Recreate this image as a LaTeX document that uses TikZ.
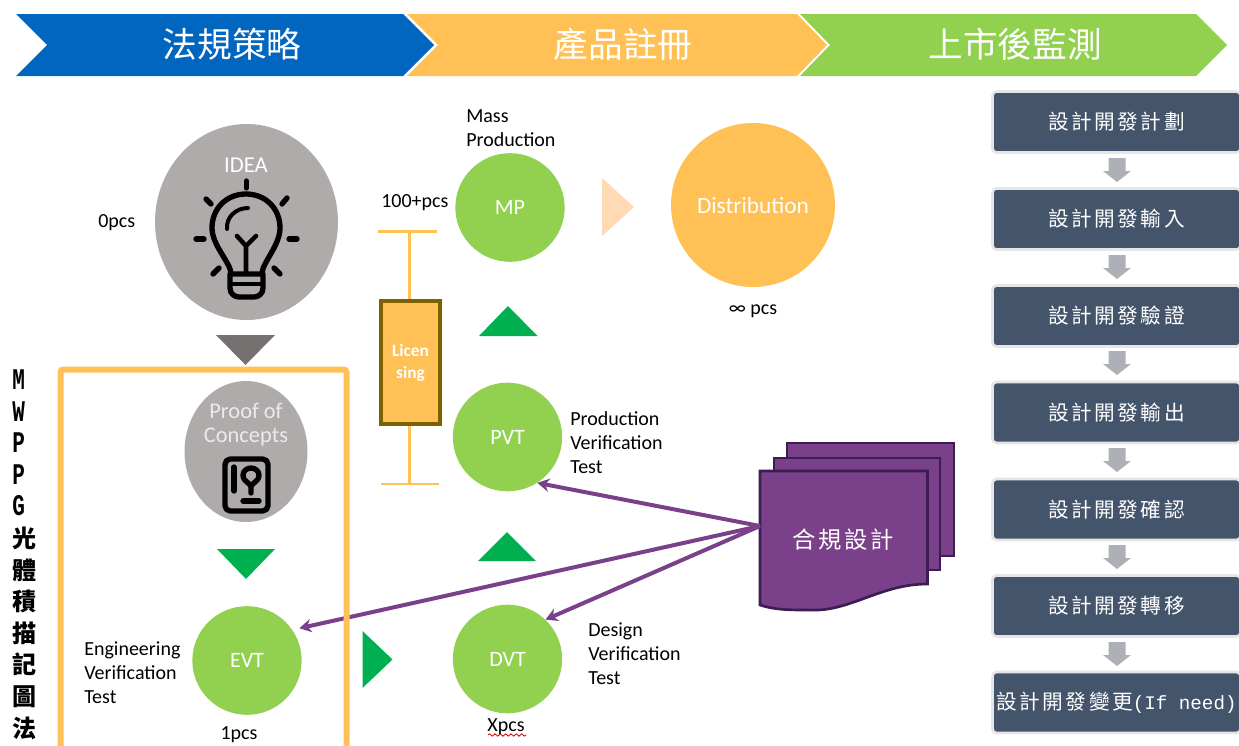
\documentclass[tikz,border=0pt]{standalone}
\usepackage{fontspec}
\setmainfont{Carlito}
\newfontfamily\cjk{Noto Sans CJK TC}
\newfontfamily\cjksp[LetterSpace=12]{Noto Sans CJK TC}
\newfontfamily\monohalf{Liberation Mono}
\newfontfamily\narrowb[FakeStretch=0.7]{Liberation Mono Bold}
\usetikzlibrary{shapes.geometric,decorations.pathmorphing,arrows.meta}
\definecolor{hblue}{HTML}{0066BF}
\definecolor{horange}{HTML}{FFC055}
\definecolor{hgreen}{HTML}{92D050}
\definecolor{dgreen}{HTML}{00B050}
\definecolor{ggray}{HTML}{AFABAB}
\definecolor{tgray}{HTML}{767171}
\definecolor{pale}{HTML}{FFDAB5}
\definecolor{slate}{HTML}{44546A}
\definecolor{slateb}{HTML}{E7E6E6}
\definecolor{arrgray}{HTML}{ADB0B6}
\definecolor{purp}{HTML}{7A4089}
\definecolor{purpd}{HTML}{3B1D52}
\definecolor{brownb}{HTML}{7F6000}
\tikzset{
  header/.style={font=\cjk\fontsize{26}{30}\selectfont,text=white,inner sep=0pt},
  bubble/.style={ellipse,inner sep=0pt,text=white,font=\fontsize{16.5}{18}\selectfont},
  greenb/.style={bubble,fill=hgreen,minimum width=82,minimum height=81.5},
  plain/.style={font=\fontsize{15}{18}\selectfont,inner sep=0pt,text=black,align=left},
  flowbox/.style={rectangle,rounded corners=3,fill=slate,draw=slateb,line width=2,minimum width=186,minimum height=45.75,inner sep=0pt,text=white,font=\cjksp\fontsize{15.5}{18}\selectfont},
  gar/.style={fill=arrgray},
  purparrow/.style={draw=purp,line width=3,-{Stealth[length=9,width=10]}},
  page/.style={fill=purp,draw=purpd,line width=2},
  icon/.style={draw=black,line cap=round,line join=round,line width=4},
}
\newcommand\garrow[1]{\fill[gar,shift={(1117,#1)}] (-8.5,0)--(8.5,0)--(8.5,13)--(14,13)--(0,24)--(-14,13)--(-8.5,13)--cycle;}
\begin{document}
\begin{tikzpicture}[x=0.75pt,y=-0.75pt]
\useasboundingbox (0,0) rectangle (1239,746);
\clip (0,0) rectangle (1239,746);
% header chevrons
\fill[hblue] (16,14)--(403,14)--(434,45)--(403,76)--(16,76)--(47,45)--cycle;
\fill[horange] (407,14)--(797,14)--(827,45)--(797,76)--(407,76)--(438,45)--cycle;
\fill[hgreen] (800,14)--(1196,14)--(1227,45)--(1196,76)--(800,76)--(830,45)--cycle;
\node[header] (h1) at (232,44) {法規策略};
\node[header] (h2) at (623,44) {產品註冊};
\node[header] (h3) at (1015,44) {上市後監測};
% bubbles
\node[bubble,fill=ggray,minimum width=137.25,minimum height=147] (idea) at (246.5,222) {};
\node[bubble,fill=ggray,minimum width=92.25,minimum height=105.75] (poc) at (246,451.5) {};
\node[greenb] (mp) at (510,207.5) {MP};
\node[greenb] (pvt) at (507.5,437) {PVT};
\node[greenb] (dvt) at (507.5,659) {DVT};
\node[greenb] (evt) at (247,660.5) {EVT};
\node[bubble,fill=horange,minimum width=123,minimum height=123,font=\fontsize{17.5}{20}\selectfont] (dist) at (753,205) {Distribution};
\node[bubble,minimum width=0,font=\fontsize{17}{18}\selectfont,text=white] (ideat) at (246,165) {IDEA};
\node[bubble,ellipse,align=center,font=\fontsize{16.8}{18}\selectfont,text=white!92!black] (poct) at (246,425) {Proof of\\Concepts};
% bulb icon
\begin{scope}[icon]
\draw (231,273) .. controls (230,262) and (212,245) .. (212,228) .. controls (212,208) and (227,194) .. (246,194) .. controls (265,194) and (280,208) .. (280,228) .. controls (280,245) and (263,262) .. (262,273);
\draw[line width=3] (227,229) .. controls (226,217) and (236,208) .. (248,208);
\draw[line width=3.4] (237,236)--(246,246)--(256,236) (246,246)--(246,273);
\draw (230,274)--(263,274)--(263,288) .. controls (263,294) and (258,297) .. (254,297) -- (239,297) .. controls (235,297) and (230,294) .. (230,288) -- cycle;
\draw[line width=2.6,draw=black] (230,284)--(263,284);
\draw (246.3,181)--(246.3,188);
\draw (206,199)--(211,204);
\draw (282,204)--(287,198);
\draw (196,239)--(204,239);
\draw (289,239)--(297,239);
\draw (213,274)--(219,268);
\draw (274,268)--(280,274);
\end{scope}
% proof of concept icon
\begin{scope}[icon]
\draw[rounded corners=4] (225,459) rectangle (268,511);
\draw (234,467)--(234,491);
\draw[fill=none] (251,493)--(251,487) .. controls (251,483) and (243,482) .. (243,475) .. controls (243,471) and (247,468) .. (251,468) .. controls (255,468) and (259,471) .. (259,475) .. controls (259,482) and (251,483) .. (251,487);
\draw (243,501)--(259,501);
\end{scope}
% triangles
\fill[tgray] (216,335)--(275,335)--(245.5,365)--cycle;
\fill[dgreen] (479,336)--(537.5,336)--(508,306)--cycle;
\fill[dgreen] (217,549)--(275,549)--(246,579)--cycle;
\fill[dgreen] (478,561)--(536,561)--(507,532)--cycle;
\fill[dgreen] (362.5,631)--(392.5,659.5)--(362.5,688)--cycle;
\fill[pale] (602,178)--(634,207)--(602,236)--cycle;
% document stack
\path[page] (787,443)--(954,443)--(954,556)--(787,556)--cycle;
\path[page] (774,458)--(940,458)--(940,570)--(774,570)--cycle;
\path[page] (760,471)--(927.5,471)--(927.5,584) .. controls (880,584) and (850,612) .. (810,610) .. controls (790,610) and (775,610) .. (760,605)--cycle;
\node[text=white,font=\cjksp\fontsize{17.5}{20}\selectfont,inner sep=0pt] (doc) at (843,540) {合規設計};
\coordinate (docL) at (760,526);
% connectors
\draw[purparrow] (docL)--(pvt.-57);
\draw[purparrow] (docL)--(dvt.46);
\draw[purparrow] (docL)--([shift={(8,0)}]evt.36);
% frame
\draw[horange,line width=4.5,rounded corners=2] (60.5,760)--(60.5,369.5)--(346.5,369.5)--(346.5,760);
% licensing
\coordinate (captop) at (409.5,231.5);
\coordinate (capbot) at (409.5,484);
\draw[horange,line width=1.6] (378,231.5)--(437,231.5) (381,484)--(439,484);
\node[rectangle,fill=horange,draw=brownb,line width=2.4,minimum width=44.25,minimum height=92.25,inner sep=0pt,text=white,align=center,font=\bfseries\fontsize{13}{16.5}\selectfont] (lic) at (410.5,362.5) {Licen\\sing};
\draw[horange,line width=1.6] (captop)--(captop|-lic.north) (capbot)--(capbot|-lic.south);
% labels
\node[plain,anchor=west] (l0) at (98,223) {0pcs};
\node[plain,anchor=west] (l100) at (381,203) {100+pcs};
\node[plain,anchor=west] (lmass) at (466,128) {Mass\\Production};
\node[plain,anchor=center] (linf) at (753,311) {∞ pcs};
\node[plain,anchor=west] (lpvt) at (570,443) {Production\\Verification\\Test};
\node[plain,anchor=west] (ldvt) at (588,654) {Design\\Verification\\Test};
\node[plain,anchor=west] (levt) at (84,672.5) {Engineering\\Verification\\Test};
\node[plain] (l1) at (239,735) {1pcs};
\node[plain] (lx) at (506,727) {Xpcs};
\draw[red!80!black,line width=0.6,decorate,decoration={snake,amplitude=0.9,segment length=4}] (488,735)--(526,735);
% vertical title
\node[anchor=west,inner sep=0pt,align=left,font=\bfseries\fontsize{18}{23.7}\selectfont] (vt) at (12,554.5) {{\narrowb\fontsize{22.5}{23.7}\selectfont M}\\{\narrowb\fontsize{22.5}{23.7}\selectfont W}\\{\narrowb\fontsize{22.5}{23.7}\selectfont P}\\{\narrowb\fontsize{22.5}{23.7}\selectfont P}\\{\narrowb\fontsize{22.5}{23.7}\selectfont G}\\{\cjk\bfseries 光}\\{\cjk\bfseries 體}\\{\cjk\bfseries 積}\\{\cjk\bfseries 描}\\{\cjk\bfseries 記}\\{\cjk\bfseries 圖}\\{\cjk\bfseries 法}};
% flow boxes
\node[flowbox] (b1) at (1116.5,122) {設計開發計劃};
\node[flowbox] (b2) at (1116.5,219) {設計開發輸入};
\node[flowbox] (b3) at (1116.5,316) {設計開發驗證};
\node[flowbox] (b4) at (1116.5,412.5) {設計開發輸出};
\node[flowbox] (b5) at (1116.5,509.5) {設計開發確認};
\node[flowbox] (b6) at (1116.5,606) {設計開發轉移};
\node[flowbox] (b7) at (1116.5,702.5) {設計開發變更{\monohalf\fontsize{14.4}{18}\selectfont (If need)}};
\garrow{158}\garrow{255}\garrow{351}\garrow{448}\garrow{545}\garrow{642}
\end{tikzpicture}
\end{document}
